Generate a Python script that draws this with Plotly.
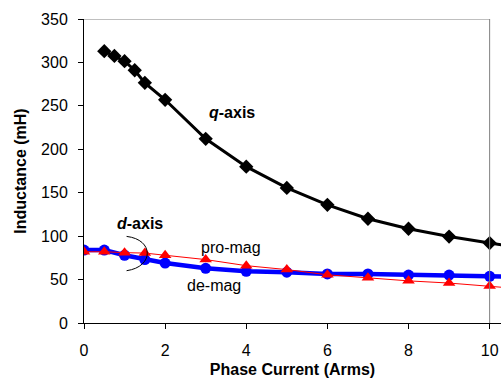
import plotly.graph_objects as go

# Data
q_current = [0.5, 0.75, 1.0, 1.25, 1.5, 2, 3, 4, 5, 6, 7, 8, 9, 10, 11]
q_inductance = [313, 307.5, 301.5, 291, 276.5, 257, 212, 180, 155.5, 136, 120, 108.5, 99.5, 92, 85]

d_current = [0, 0.5, 1, 1.5, 2, 3, 4, 5, 6, 7, 8, 9, 10, 11]
demag_inductance = [84, 84, 78, 73, 69, 63, 59.5, 58.5, 56.5, 56.5, 55.2, 55.2, 53.8, 53]
promag_inductance = [82, 82, 81, 80.5, 78, 73, 66, 61.5, 55.5, 52, 48.5, 46, 42.5, 38.5]

x_ticks = [0, 2, 4, 6, 8, 10]
y_ticks = [0, 50, 100, 150, 200, 250, 300, 350]

FONT = "Arial, 'Liberation Sans', sans-serif"

fig = go.Figure()
fig.add_trace(go.Scatter(x=q_current, y=q_inductance, mode="lines+markers",
                         line=dict(color="black", width=3),
                         marker=dict(symbol="diamond", size=11, color="black"),
                         name="q-axis"))
fig.add_trace(go.Scatter(x=d_current, y=demag_inductance, mode="lines+markers",
                         line=dict(color="#0000FF", width=4.5),
                         marker=dict(symbol="circle", size=11, color="#0000FF"),
                         name="de-mag"))
fig.add_trace(go.Scatter(x=d_current, y=promag_inductance, mode="lines+markers",
                         line=dict(color="#FF0000", width=1),
                         marker=dict(symbol="triangle-up", size=11, color="#FF0000"),
                         name="pro-mag"))

# plot border (top & right, grey)
fig.add_shape(type="line", x0=0, x1=10, y0=350, y1=350, line=dict(color="#808080", width=1))
fig.add_shape(type="line", x0=10, x1=10, y0=0, y1=350, line=dict(color="#808080", width=1))
# bracket arc around the d-axis curves
fig.add_shape(type="path", path="M 1.05,99.7 C 1.73,96 1.73,64.8 1.05,60.2",
              line=dict(color="black", width=1))

fig.add_annotation(x=3.65, y=242, text="<b><i>q</i>-axis</b>", showarrow=False,
                   font=dict(family=FONT, size=16, color="black"))
fig.add_annotation(x=1.38, y=114, text="<b><i>d</i>-axis</b>", showarrow=False,
                   font=dict(family=FONT, size=16, color="black"))
fig.add_annotation(x=3.62, y=87, text="pro-mag", showarrow=False,
                   font=dict(family=FONT, size=16, color="black"))
fig.add_annotation(x=3.2, y=43.5, text="de-mag", showarrow=False,
                   font=dict(family=FONT, size=16, color="black"))

fig.update_layout(
    width=501, height=378,
    margin=dict(l=84, r=0, t=19, b=55),
    plot_bgcolor="white", paper_bgcolor="white",
    showlegend=False,
    font=dict(family=FONT, size=16, color="black"),
)
fig.update_xaxes(range=[0, 10.28], tickvals=x_ticks, ticktext=[str(v) for v in x_ticks],
                 showgrid=False, zeroline=False, showline=True, linecolor="black", linewidth=1,
                 ticks="outside", ticklen=5, tickcolor="black", ticklabeloverflow="allow",
                 ticklabelstandoff=8, automargin=False,
                 title=dict(text="<b>Phase Current (Arms)</b>", standoff=6, font=dict(size=16)))
fig.update_yaxes(range=[0, 350], tickvals=y_ticks, showgrid=False, zeroline=False,
                 showline=True, linecolor="black", linewidth=1,
                 ticks="outside", ticklen=5, tickcolor="black", automargin=False,
                 ticklabelstandoff=7,
                 title=dict(text="<b>Inductance (mH)</b>", standoff=10, font=dict(size=16)))

fig.write_html("out.html", config={"displayModeBar": False},
               post_script="document.body.style.margin='0';document.body.style.overflow='hidden';")
